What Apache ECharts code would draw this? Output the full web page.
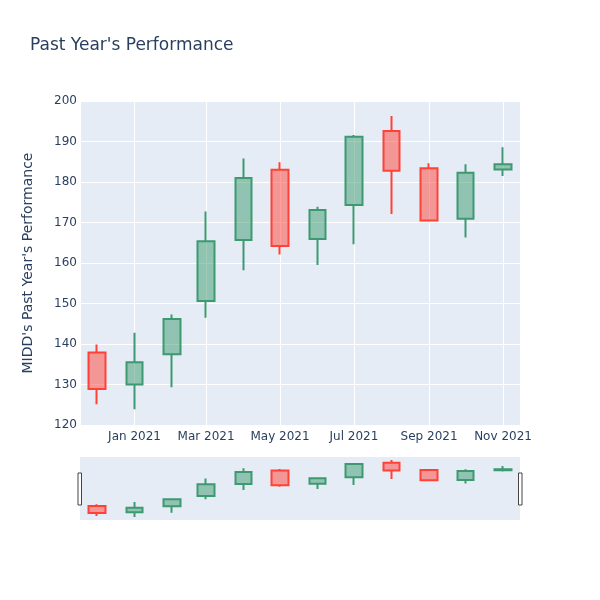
<!DOCTYPE html>
<html>
<head>
<meta charset="utf-8">
<script src="https://cdn.jsdelivr.net/npm/echarts@6/dist/echarts.min.js"></script>
<style>html,body{margin:0;padding:0;background:#fff}#c{width:600px;height:600px}</style>
</head>
<body>
<div id="c"></div>
<script>
const dates = ['2020-12-01','2021-01-01','2021-02-01','2021-03-01','2021-04-01','2021-05-01','2021-06-01','2021-07-01','2021-08-01','2021-09-01','2021-10-01','2021-11-01'];
const openVals  = [137.9, 130.0, 137.5, 150.6, 165.7, 183.0, 165.9, 174.3, 192.6, 183.4, 170.9, 183.1];
const closeVals = [128.9, 135.5, 146.2, 165.4, 181.0, 164.2, 173.1, 191.2, 182.8, 170.5, 182.3, 184.4];
const lowVals   = [125.1, 123.9, 129.3, 146.5, 158.2, 162.1, 159.5, 164.6, 172.1, 170.3, 166.3, 181.5];
const highVals  = [139.9, 142.8, 147.3, 172.7, 185.8, 184.9, 173.9, 191.6, 196.3, 184.6, 184.4, 188.6];
const yTicks = [120, 130, 140, 150, 160, 170, 180, 190, 200];
const monthNames = ['Jan','Feb','Mar','Apr','May','Jun','Jul','Aug','Sep','Oct','Nov','Dec'];

const candleData = dates.map((d, i) => [d, openVals[i], closeVals[i], lowVals[i], highVals[i]]);
const xMin = new Date('2020-11-17T00:00:00').getTime();
const xMax = new Date('2021-11-15T00:00:00').getTime();
const textColor = '#2a3f5f';
const font = 'DejaVu Sans';
const itemStyle = {
  color: 'rgba(61,153,112,0.5)',
  color0: 'rgba(255,65,54,0.5)',
  borderColor: '#3D9970',
  borderColor0: '#FF4136',
  borderWidth: 2
};

const chart = echarts.init(document.getElementById('c'), null, {renderer: 'canvas'});
chart.setOption({
  animation: false,
  backgroundColor: '#fff',
  title: {
    text: "Past Year's Performance",
    left: 30, top: 37, padding: 0,
    textStyle: {color: textColor, fontSize: 17, fontWeight: 'normal', fontFamily: font}
  },
  grid: [
    {left: 80, right: 80, top: 101, height: 324, backgroundColor: '#e5ecf6', show: true, borderWidth: 0},
    {left: 80, right: 80, top: 457, height: 63, backgroundColor: '#e5ecf6', show: true, borderWidth: 0}
  ],
  xAxis: [
    {
      type: 'time', gridIndex: 0, min: xMin, max: xMax, splitNumber: 6,
      axisLine: {show: false}, axisTick: {show: false},
      splitLine: {show: true, lineStyle: {color: '#fff', width: 1}},
      minorTick: {show: false},
      axisLabel: {
        color: textColor, fontSize: 12, fontFamily: font, margin: 6,
        hideOverlap: false, showMinLabel: false, showMaxLabel: false,
        formatter: function (v) { const d = new Date(v); return monthNames[d.getMonth()] + ' ' + d.getFullYear(); }
      }
    },
    {
      type: 'time', gridIndex: 1, min: xMin, max: xMax,
      axisLine: {show: false}, axisTick: {show: false}, axisLabel: {show: false}, splitLine: {show: false}
    }
  ],
  yAxis: [
    {
      type: 'value', gridIndex: 0, min: 120, max: 200, interval: 10,
      name: "MIDD's Past Year's Performance", nameLocation: 'middle', nameGap: 45,
      nameTextStyle: {color: textColor, fontSize: 14, fontFamily: font},
      axisLine: {show: false}, axisTick: {show: false},
      splitLine: {lineStyle: {color: '#fff', width: 1}},
      axisLabel: {color: textColor, fontSize: 12, fontFamily: font, margin: 3,
        formatter: v => yTicks.includes(v) ? String(v) : ''}
    },
    {
      type: 'value', gridIndex: 1, min: 120, max: 200,
      axisLine: {show: false}, axisTick: {show: false}, axisLabel: {show: false}, splitLine: {show: false}
    }
  ],
  series: [
    {type: 'candlestick', xAxisIndex: 0, yAxisIndex: 0, data: candleData, barWidth: 17,
      encode: {x: 0, y: [1, 2, 3, 4]}, itemStyle: itemStyle},
    {type: 'candlestick', xAxisIndex: 1, yAxisIndex: 1, data: candleData, barWidth: 17,
      encode: {x: 0, y: [1, 2, 3, 4]}, itemStyle: itemStyle, silent: true}
  ],
  graphic: [
    {type: 'rect', shape: {x: 78, y: 473, width: 3.5, height: 32}, style: {fill: '#fff', stroke: '#444', lineWidth: 1}},
    {type: 'rect', shape: {x: 518.5, y: 473, width: 3.5, height: 32}, style: {fill: '#fff', stroke: '#444', lineWidth: 1}}
  ]
});
</script>
</body>
</html>
